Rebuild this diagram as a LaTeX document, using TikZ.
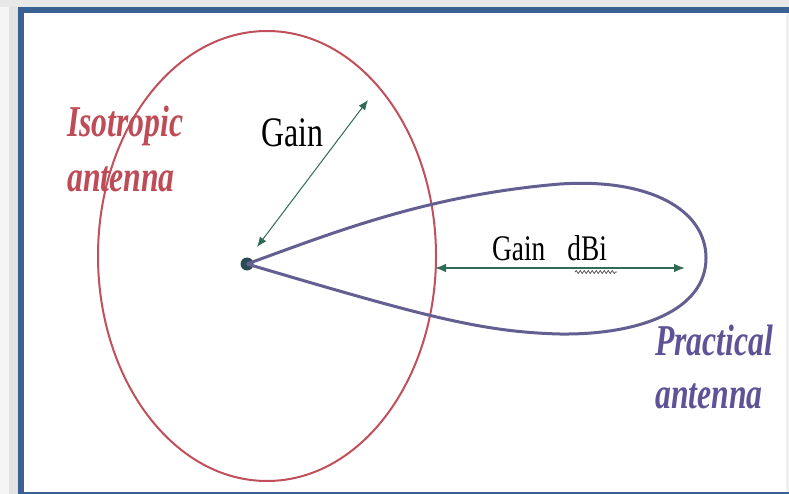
\documentclass[tikz,border=0pt]{standalone}
\usepackage{fontspec}
\setmainfont{Liberation Serif}
\newfontfamily\condserif[FakeStretch=0.76]{Liberation Serif}
\newfontfamily\condbi[FakeStretch=0.72]{Liberation Serif}
\usetikzlibrary{arrows.meta,decorations.pathmorphing}
\definecolor{framec}{RGB}{58,97,148}
\definecolor{isored}{RGB}{192,80,90}
\definecolor{isotext}{RGB}{190,75,85}
\definecolor{lobec}{RGB}{100,95,145}
\definecolor{practext}{RGB}{95,82,150}
\definecolor{arrowc}{RGB}{47,107,85}
\definecolor{dotc}{RGB}{45,75,85}
\tikzset{
  lbl/.style={inner sep=0pt, anchor=base west},
  gainlbl/.style={lbl, text=black, font=\condserif\fontsize{#1}{#1}\selectfont},
  antlbl/.style={lbl, font=\condbi\bfseries\itshape\fontsize{44}{44}\selectfont},
  garrow/.style={draw=arrowc, {Latex[length=#1pt,width=0.8*#1pt]}-{Latex[length=#1pt,width=0.8*#1pt]}}
}
\begin{document}
\begin{tikzpicture}[x=1pt,y=-1pt]
\useasboundingbox (0,0) rectangle (789,494);
% background and frame
\fill[gray!18] (0,0) rectangle (789,494);
\fill[gray!8] (0,7) rectangle (9,494);
\fill[gray!22] (9,7) rectangle (18,494);
\fill[framec] (18,7) rectangle (789,494);
\fill[white] (24,13) rectangle (786,492);
\fill[gray!12] (786,13) rectangle (789,492);
% isotropic pattern
\draw[isored, line width=2pt] (267,256) ellipse [x radius=169pt, y radius=225pt];
% source dot
\node[circle, fill=dotc, inner sep=0pt, minimum size=13pt] (dot) at (247,264) {};
% practical lobe
\draw[lobec, line width=3pt, line join=round]
  (dot.center) .. controls (340,230) and (430,195) .. (560,184)
  .. controls (650,178) and (706,210) .. (706,258)
  .. controls (706,310) and (640,335) .. (560,334)
  .. controls (480,332) and (420,315) .. (dot.center);
% gain arrows
\coordinate (g1) at (257,247);
\coordinate (g2) at (368,100);
\draw[garrow=10, line width=1pt] (g1) -- (g2);
\coordinate (d1) at (435,268);
\coordinate (d2) at (685,268);
\draw[garrow=11, line width=1.8pt] (d1) -- (d2);
% labels
\node[gainlbl=42] (gain) at (261,147) {Gain};
\node[gainlbl=36] (gaindbi) at (492,260) {Gain\hspace{22pt}dBi};
\coordinate (s1) at (575,272);
\coordinate (s2) at (617,272);
\draw[gray!70!black, line width=0.8pt, decorate, decoration={snake, amplitude=1.5pt, segment length=4pt}] (s1) -- (s2);
\node[antlbl, text=isotext] (iso1) at (67,137) {Isotropic};
\node[antlbl, text=isotext] (iso2) at (67,192) {antenna};
\node[antlbl, text=practext] (pr1) at (655,355) {Practical};
\node[antlbl, text=practext] (pr2) at (655,408) {antenna};
\end{tikzpicture}
\end{document}
